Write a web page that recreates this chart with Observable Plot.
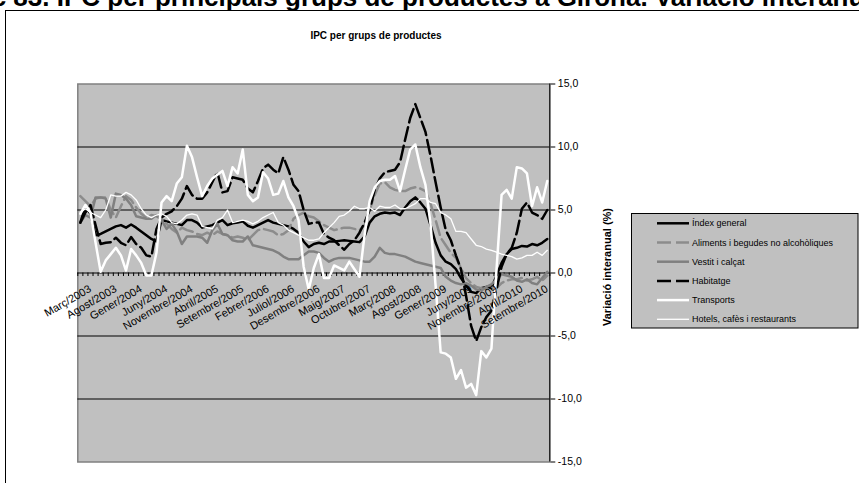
<!DOCTYPE html>
<html><head><meta charset="utf-8">
<script src="https://cdn.jsdelivr.net/npm/d3@7"></script>
<script src="https://cdn.jsdelivr.net/npm/@observablehq/plot@0.6"></script>
<style>
html,body{margin:0;padding:0;background:#fff;}
#wrap{position:relative;width:859px;height:483px;overflow:hidden;font-family:"Liberation Sans",Arial,sans-serif;}
#wrap > svg{position:absolute;left:0;top:0;}
</style></head><body><div id="wrap"></div>
<script>
// ---- data ----
const monthNames = ["Gener","Febrer","Març","Abril","Maig","Juny","Juliol","Agost","Setembre","Octubre","Novembre","Desembre"];
const firstYear = 2003, firstMonth = 2, nMonths = 93; // Març/2003 .. Novembre/2010
const categories = [];
for (let k = 0; k < nMonths; k++) {
  const m = firstMonth + k;
  categories.push(monthNames[m % 12] + "/" + (firstYear + Math.floor(m / 12)));
}
const tickLabels = ["Març/2003","Agost/2003","Gener/2004","Juny/2004","Novembre/2004","Abril/2005","Setembre/2005","Febrer/2006","Juliol/2006","Desembre/2006","Maig/2007","Octubre/2007","Març/2008","Agost/2008","Gener/2009","Juny/2009","Novembre/2009","Abril/2010","Setembre/2010"];
const yTicks = [-15,-10,-5,0,5,10,15];
const yGrid = [-10,-5,0,5,10];

const indexGeneral = [4.0,5.3,4.7,3.0,3.1,3.3,3.5,3.7,3.8,3.6,
 3.85,3.6,3.3,3.0,2.7,2.5,4.2,4.1,4.0,3.9,
 3.8,4.2,4.2,4.0,3.6,3.7,3.8,4.0,4.2,3.8,
 3.95,4.0,4.1,3.75,3.6,3.8,4.0,4.2,4.0,3.9,
 3.8,3.7,3.5,3.2,2.5,2.05,2.3,2.4,2.3,2.5,
 2.5,2.55,2.6,2.55,2.5,2.45,2.9,4.0,4.5,4.7,
 4.8,4.75,4.8,4.6,5.2,5.7,6.0,5.6,5.1,3.8,
 2.4,1.4,0.9,0.7,0.3,-0.4,-1.0,-1.5,-1.6,-1.2,
 -1.1,-1.2,-0.2,0.8,1.5,1.9,2.0,2.15,2.1,2.3,
 2.2,2.4,2.7];
const aliments = [6.1,5.7,5.3,5.9,6.0,6.0,5.0,4.4,5.3,6.1,
 5.8,5.2,4.7,4.4,4.6,4.5,4.3,3.9,3.5,3.2,
 3.6,3.4,3.3,3.1,3.0,3.2,3.0,3.3,3.1,3.0,
 2.8,2.9,2.8,2.6,3.0,3.4,3.5,3.4,3.3,3.0,
 3.1,3.4,4.3,4.6,4.8,4.5,4.4,4.1,3.8,3.6,
 3.4,3.5,3.6,3.6,3.5,3.4,3.8,5.0,6.2,7.1,
 7.2,6.8,6.6,6.5,6.5,6.7,6.8,6.7,6.5,5.5,
 4.2,2.8,2.2,1.6,1.2,0.4,-0.4,-0.8,-1.1,-1.2,
 -1.3,-1.1,-1.2,-0.8,-0.6,-0.5,-0.5,-0.4,-0.6,-0.5,
 -0.3,-0.6,-0.2];
const vestit = [4.0,4.6,4.4,6.0,6.0,5.9,4.4,6.3,6.2,5.9,
 5.4,4.5,4.4,4.3,4.3,4.6,4.2,3.5,3.9,3.3,
 2.3,2.9,2.9,2.9,2.8,2.4,3.4,3.9,3.1,3.0,
 2.6,2.5,2.5,2.9,2.2,2.1,2.0,1.9,1.8,1.6,
 1.3,1.1,1.1,1.1,1.4,1.7,1.7,1.6,1.2,0.9,
 1.1,1.2,1.2,1.2,1.1,1.0,0.9,0.9,1.3,2.0,
 1.6,1.5,1.5,1.4,1.3,1.1,0.9,0.8,0.7,0.6,
 0.5,0.4,-0.3,-0.6,-0.8,-0.9,-0.8,-1.0,-1.3,-1.4,
 -1.1,-0.9,-0.5,-0.1,-0.2,-0.3,-0.6,-0.7,-0.5,-0.8,
 -0.9,-0.4,0.1];
const habitatge = [4.0,4.8,5.4,3.8,2.3,2.4,2.45,2.8,2.4,2.2,
 2.85,2.3,2.0,1.4,1.3,3.5,4.4,4.7,4.9,5.3,
 5.9,6.9,6.2,5.9,5.9,6.4,7.2,8.0,6.4,6.5,
 7.6,7.5,7.4,6.7,6.4,7.3,8.3,8.6,8.2,7.9,
 9.2,8.2,7.0,6.5,5.0,3.9,4.0,4.0,3.1,2.8,
 2.6,2.2,1.85,2.3,2.6,3.2,4.0,5.0,6.6,7.5,
 8.0,8.1,8.2,8.8,10.6,12.3,13.4,12.3,11.2,9.3,
 7.2,5.2,3.4,2.6,1.4,0.3,-1.8,-4.2,-5.4,-4.3,
 -3.5,-3.0,-1.3,0.5,1.5,2.0,3.2,5.1,5.6,4.8,
 4.6,4.3,5.0];
const transports = [4.7,5.4,4.8,2.4,0.1,1.0,1.5,2.0,1.4,0.2,
 1.9,1.4,0.8,-0.2,-0.2,1.6,5.6,6.1,5.7,7.1,
 7.6,10.1,9.2,7.6,6.1,6.9,7.5,7.8,8.1,6.9,
 8.4,7.9,9.8,6.2,5.7,6.0,8.0,7.5,6.2,6.3,
 7.3,6.0,5.3,4.2,0.5,-1.3,0.4,1.5,-0.4,-0.4,
 0.6,0.4,0.2,0.9,0.3,-0.3,3.0,5.7,6.8,7.3,
 7.4,7.4,7.7,6.5,8.2,9.8,10.2,8.4,7.0,3.9,
 -1.0,-6.3,-6.4,-6.7,-8.4,-7.7,-9.1,-8.8,-9.7,-6.2,
 -6.7,-6.0,0.3,6.2,6.6,5.9,8.4,8.3,7.9,5.3,
 6.8,5.6,7.3];
const hotels = [4.8,5.1,4.8,4.6,4.4,5.0,6.2,6.1,6.1,6.4,
 6.2,5.8,5.1,4.6,4.4,4.6,4.7,4.5,4.0,3.9,
 4.2,4.6,4.7,4.6,3.7,3.6,3.5,4.2,4.4,5.0,
 4.0,4.1,4.2,4.1,3.9,4.1,4.4,4.6,4.8,4.0,
 3.8,3.4,3.2,3.0,2.8,2.6,2.6,2.7,3.2,3.6,
 4.0,4.5,4.6,4.9,5.3,5.1,5.1,5.2,4.9,5.3,
 5.2,5.2,5.4,5.1,5.1,5.3,5.5,5.9,5.9,5.6,
 5.5,4.8,4.6,4.3,3.3,3.3,3.2,2.7,2.2,2.1,
 1.9,1.8,1.65,1.5,1.4,1.3,1.1,1.2,1.4,1.4,
 1.65,1.4,1.8];

const seriesNames = ["Índex general","Aliments i begudes no alcohòliques","Vestit i calçat","Habitatge","Transports","Hotels, cafès i restaurants"];
const seriesValues = [indexGeneral, aliments, vestit, habitatge, transports, hotels];
const seriesColors = ["#000000","#8c8c8c","#808080","#000000","#ffffff","#ffffff"];
const seriesWidths = [2.5, 2.5, 2.5, 2.5, 2.5, 1.3];
const seriesDash = [null, "14,5", null, "14,5", null, null];

// ---- layout ----
const W = 859, H = 483;
const wrap = document.getElementById("wrap");

// background overlay (titles, frame, legend)
const ov = d3.create("svg").attr("width", W).attr("height", H)
  .attr("font-family", "'Liberation Sans', Arial, sans-serif");
ov.append("text").attr("x", -69).attr("y", 6).attr("font-size", 26).attr("font-weight", "bold")
  .attr("fill", "#000")
  .text("Gràfic 83. IPC per principals grups de productes a Girona. Variació interanual");
ov.append("rect").attr("x", 5.5).attr("y", 10.5).attr("width", 1000).attr("height", 600)
  .attr("fill", "#fff").attr("stroke", "#000").attr("stroke-width", 1);
ov.append("text").attr("x", 376).attr("y", 39).attr("text-anchor", "middle")
  .attr("font-size", 10).attr("font-weight", "bold")
  .attr("fill", "#000").text("IPC per grups de productes");
ov.append("text").attr("transform", "translate(607,267) rotate(-90)")
  .attr("text-anchor", "middle").attr("dy", "0.35em")
  .attr("font-size", 11).attr("font-weight", "bold").attr("fill", "#000")
  .text("Variació interanual (%)");
// legend
const lg = ov.append("g");
lg.append("rect").attr("x", 631.5).attr("y", 213.5).attr("width", 226.5).attr("height", 114.5)
  .attr("fill", "#C0C0C0").attr("stroke", "#000").attr("stroke-width", 1);
seriesNames.forEach((name, k) => {
  const yy = 223.3 + k * 19.2;
  lg.append("line").attr("x1", 657).attr("x2", 689).attr("y1", yy).attr("y2", yy)
    .attr("stroke", seriesColors[k]).attr("stroke-width", seriesWidths[k])
    .attr("stroke-dasharray", seriesDash[k] || null);
  lg.append("text").attr("x", 692).attr("y", yy).attr("dy", "0.35em")
    .attr("font-size", 9).attr("fill", "#000").text(name);
});
wrap.appendChild(ov.node());

// ---- plot ----
const n = categories.length;
const boundaries = d3.range(n + 1).map(k => k - 0.5);
const tickIdx = tickLabels.map(l => categories.indexOf(l));
const yPxPerUnit = (483 - 83.5 - 21.5) / 30;
const tickLen = 3.5 / yPxPerUnit;

const chart = Plot.plot({
  width: W, height: H,
  marginLeft: 77.3, marginRight: 309.7, marginTop: 83.5, marginBottom: 21.5,
  style: {background: "transparent", fontFamily: "'Liberation Sans', Arial, sans-serif", fontSize: "10.5px", color: "#000"},
  x: {type: "linear", domain: [-0.5, n - 0.5], axis: null},
  y: {domain: [-15, 15], axis: "right", ticks: yTicks, tickSize: 5, tickPadding: 3,
      tickFormat: d => d.toFixed(1).replace(".", ","), label: null},
  marks: [
    Plot.frame({fill: "#C0C0C0", stroke: "#808080", strokeWidth: 1.5}),
    Plot.ruleY(yGrid, {stroke: "#000", strokeWidth: 1}),
    Plot.ruleX(boundaries, {x: d => d, y1: d => 0, y2: d => -tickLen, stroke: "#000", strokeWidth: 1}),
    Plot.ruleX([n - 0.5], {stroke: "#000", strokeWidth: 1}),
    ...seriesValues.map((vals, k) => Plot.line(vals, {
      x: (d, i) => i, y: d => d,
      stroke: seriesColors[k], strokeWidth: seriesWidths[k],
      strokeDasharray: seriesDash[k] || undefined, strokeLinejoin: "round"
    })),
    Plot.text(tickIdx, {x: d => d, y: d => 0, text: d => categories[d], rotate: -30,
      textAnchor: "end", dx: 10, dy: 15, fontSize: 11, fill: "#000"})
  ]
});
wrap.appendChild(chart);
</script></body></html>
